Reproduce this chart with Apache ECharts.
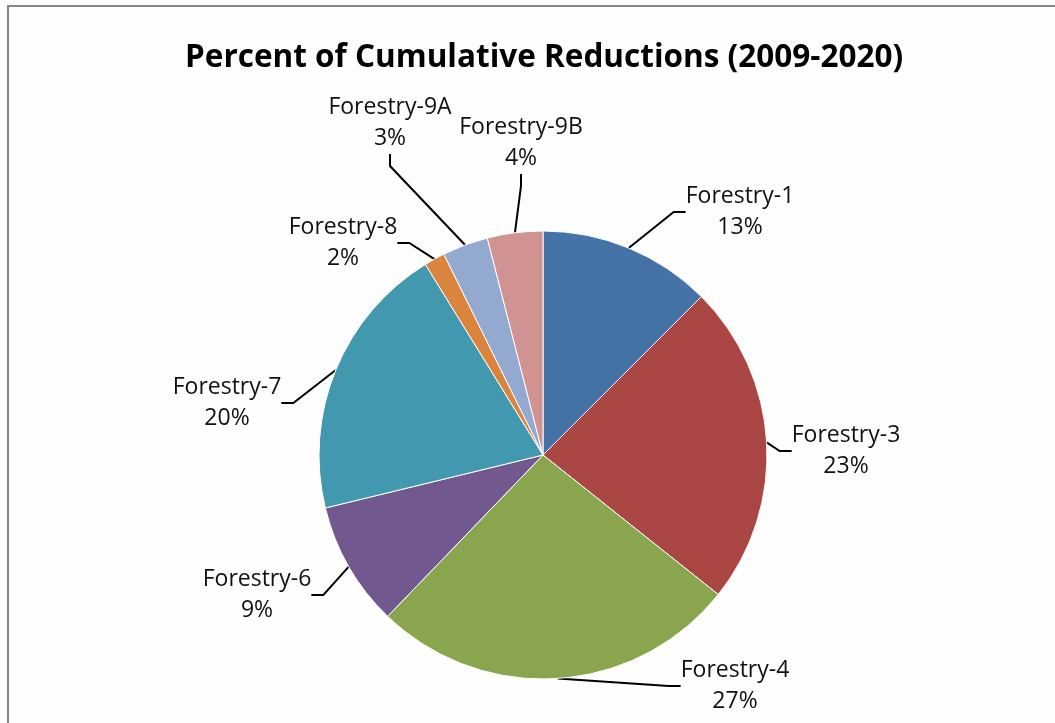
<!DOCTYPE html>
<html>
<head>
<meta charset="utf-8">
<script src="https://cdn.jsdelivr.net/npm/echarts@6/dist/echarts.min.js"></script>
<style>
  html, body { margin: 0; padding: 0; background: #fefefe; }
  #chart { width: 1055px; height: 723px; }
</style>
</head>
<body>
<div id="chart"></div>
<script>
// data (shares of cumulative reductions, %)
const categories = ['Forestry-1', 'Forestry-3', 'Forestry-4', 'Forestry-6', 'Forestry-7', 'Forestry-8', 'Forestry-9A', 'Forestry-9B'];
const values = [12.5, 23.2, 26.5, 9.0, 20.0, 1.5, 3.3, 4.0];
const colors = ['#4572A7', '#AA4643', '#89A54E', '#71588F', '#4198AF', '#DB843D', '#93A9CF', '#D19392'];

// where each label block sits (centre, px)
const labelCentres = [[740, 212], [846, 451], [735, 686], [257, 595], [227, 403], [343, 243], [390, 123], [521, 143]];

const chart = echarts.init(document.getElementById('chart'));

chart.setOption({
    backgroundColor: '#fefefe',
    animation: false,
    title: {
        text: 'Percent of Cumulative Reductions (2009-2020)',
        left: 180,
        top: 37,
        textStyle: {
            fontFamily: 'Open Sans',
            fontWeight: 'bold',
            fontSize: 31.5,
            color: '#000'
        }
    },
    graphic: [{
        type: 'rect',
        shape: { x: 8, y: 6, width: 1200, height: 900 },
        style: { fill: 'none', stroke: '#878787', lineWidth: 2 },
        silent: true
    }],
    series: [{
        type: 'pie',
        center: [543, 455],
        radius: 224,
        startAngle: 90,
        clockwise: true,
        data: categories.map((name, i) => ({
            name: name,
            value: values[i],
            itemStyle: { color: colors[i] }
        })),
        itemStyle: { borderColor: '#fff', borderWidth: 1 },
        label: {
            show: true,
            position: 'outside',
            fontFamily: 'Open Sans',
            fontSize: 23,
            lineHeight: 31,
            color: '#111',
            formatter: p => p.name + '\n' + Math.round(p.percent) + '%'
        },
        labelLine: {
            show: true,
            length: 20,
            length2: 12,
            lineStyle: { color: '#000', width: 2 }
        },
        labelLayout: p => ({
            x: labelCentres[p.dataIndex][0],
            y: labelCentres[p.dataIndex][1],
            align: 'center',
            verticalAlign: 'middle'
        }),
        emphasis: { disabled: true }
    }]
});
</script>
</body>
</html>
